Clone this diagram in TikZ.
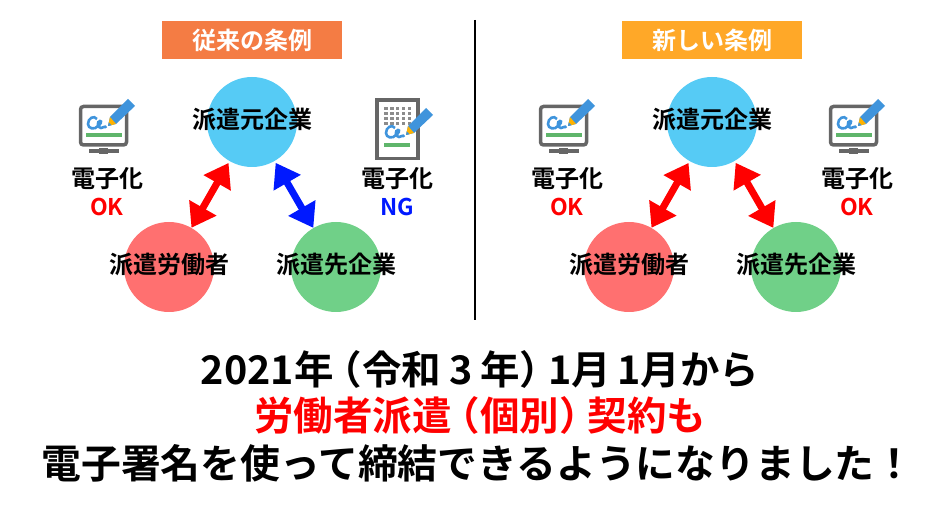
\documentclass[tikz,border=0pt]{standalone}
\usepackage{fontspec}
\setmainfont{Noto Sans CJK JP}[BoldFont={* Bold}]
\usetikzlibrary{arrows.meta,positioning,calc}
\definecolor{hkorange}{HTML}{F47C44}
\definecolor{hkamber}{HTML}{FFA828}
\definecolor{hkblue}{HTML}{56CBF5}
\definecolor{hkred}{HTML}{FF7070}
\definecolor{hkgreen}{HTML}{70D088}
\definecolor{hkpen}{HTML}{3F94DC}
\definecolor{hkgray}{HTML}{666666}
\definecolor{hkbar}{HTML}{5FB56B}
\newcommand{\hkname}[1]{\makebox[0pt]{\smash{\raisebox{-7pt}{#1}}}}
\newcommand{\hkopen}{\kern-11pt（}
\newcommand{\hkclose}{）\kern-11pt}
\tikzset{
  hk/title/.style={minimum width=180pt, minimum height=38pt, inner sep=0pt, text=white, font=\fontsize{24}{24}\selectfont\bfseries},
  hk/party/.style={circle, minimum size=90pt, inner sep=0pt, font=\fontsize{24}{24}\selectfont\bfseries},
  hk/kind/.style={inner sep=0pt, font=\fontsize{24}{24}\selectfont\bfseries},
  hk/verdict/.style={hk/kind, font=\fontsize{23}{24}\selectfont\bfseries},
  hk/both/.style={{Triangle[length=23pt,width=30pt]}-{Triangle[length=23pt,width=30pt]}, line width=7pt, shorten <=2pt, shorten >=0pt},
  hk/line/.style={line width=2pt},
  hk/big/.style={inner sep=0pt, font=\fontsize{39.5}{40}\selectfont\bfseries},
  % pen and signature, origin at the pen tip
  pics/signpen/.style={code={
    \fill[hkpen] (0,0) -- (2,-9) -- (20,-27) -- (27,-20) -- (8,-2) -- cycle;
    \fill[orange!60!yellow] (0,0) -- (2,-9) -- (8,-2) -- cycle;
    \fill[hkpen] (0,0) -- (0.8,-3.5) -- (3.5,-0.8) -- cycle;
    \draw[hkpen, line width=2.6pt] (-11,-7) .. controls (-14,-11) and (-20,-8) .. (-20,-2) .. controls (-20,3) and (-13,4) .. (-10,0)
      .. controls (-7,-2) and (-6,-5) .. (-8,-5) .. controls (-11,-5) and (-11,2) .. (-7,2) .. controls (-4,2) and (-3,-1) .. (-2,2);
  }},
  pics/monitoricon/.style={code={
    \fill[hkgray] (-5,18) rectangle (4,24);
    \fill[hkgray] (-15,19) rectangle (15,23.5);
    \draw[hkgray, line width=3.5pt, rounded corners=3pt] (-23.5,-23.5) rectangle (22.5,15);
    \fill[hkbar] (-18,3) rectangle (18,7);
    \pic at (4,-4) {signpen};
  }},
  pics/docicon/.style={code={
    \draw[hkgray, line width=3.5pt] (-20,-29) rectangle (21,29.5);
    \foreach \row in {0,...,3}
      \foreach \col in {0,...,4}
        \fill[hkgray!75] ({-13+\col*5.9},{-22+\row*5}) rectangle +(3.6,3);
    \fill[hkbar] (-13.5,14) rectangle (13,18);
    \pic at (9,6) {signpen};
  }}
}
\begin{document}
\begin{tikzpicture}[x=1pt,y=-1pt]
  \useasboundingbox (0,0) rectangle (950,510);

  \node[hk/title, fill=hkorange] (oldtitle) at (252,40) {従来の条例};
  \node[hk/title, fill=hkamber] (newtitle) at (712,40) {新しい条例};

  \coordinate (divtop) at (475,20);
  \coordinate (divbot) at (475,320);
  \draw[hk/line] (divtop) -- (divbot);

  % old rule
  \node[hk/party, fill=hkblue] (oldsource) at (252,122) {\hkname{派遣元企業}};
  \node[hk/party, fill=hkred] (oldworker) at (169,267) {\hkname{派遣労働者}};
  \node[hk/party, fill=hkgreen] (olddest) at (336,267) {\hkname{派遣先企業}};
  \draw[hk/both, red] (oldsource) -- (oldworker);
  \draw[hk/both, blue!90!cyan] (oldsource) -- (olddest);

  \pic at (104,130) {monitoricon};
  \node[hk/kind] (oldleft) at (107,179) {電子化};
  \node[hk/verdict, red, below=28pt of oldleft.center, anchor=center] (oldok) {OK};
  \pic at (397,129) {docicon};
  \node[hk/kind] (oldright) at (397,179) {電子化};
  \node[hk/verdict, blue!90!cyan, below=28pt of oldright.center, anchor=center] (oldng) {NG};

  % new rule
  \node[hk/party, fill=hkblue] (newsource) at (712,122) {\hkname{派遣元企業}};
  \node[hk/party, fill=hkred] (newworker) at (629,267) {\hkname{派遣労働者}};
  \node[hk/party, fill=hkgreen] (newdest) at (796,267) {\hkname{派遣先企業}};
  \draw[hk/both, red] (newsource) -- (newworker);
  \draw[hk/both, red] (newsource) -- (newdest);

  \pic at (564,130) {monitoricon};
  \node[hk/kind] (newleft) at (567,179) {電子化};
  \node[hk/verdict, red, below=28pt of newleft.center, anchor=center] (newok) {OK};
  \pic at (854,130) {monitoricon};
  \node[hk/kind] (newright) at (857,179) {電子化};
  \node[hk/verdict, red, below=28pt of newright.center, anchor=center] (newoktwo) {OK};

  \node[hk/big] (lineone) at (480,369) {2021年\hkopen 令和\kern8pt 3\kern8pt 年\hkclose 1月\kern6pt 1月から};
  \node[hk/big, red] (linetwo) at (480,415) {労働者派遣\hkopen 個別\hkclose 契約も};
  \node[hk/big, font=\fontsize{39.8}{40}\selectfont\bfseries] (linethree) at (478,463) {電子署名を使って締結できるようになりました！};
\end{tikzpicture}
\end{document}
